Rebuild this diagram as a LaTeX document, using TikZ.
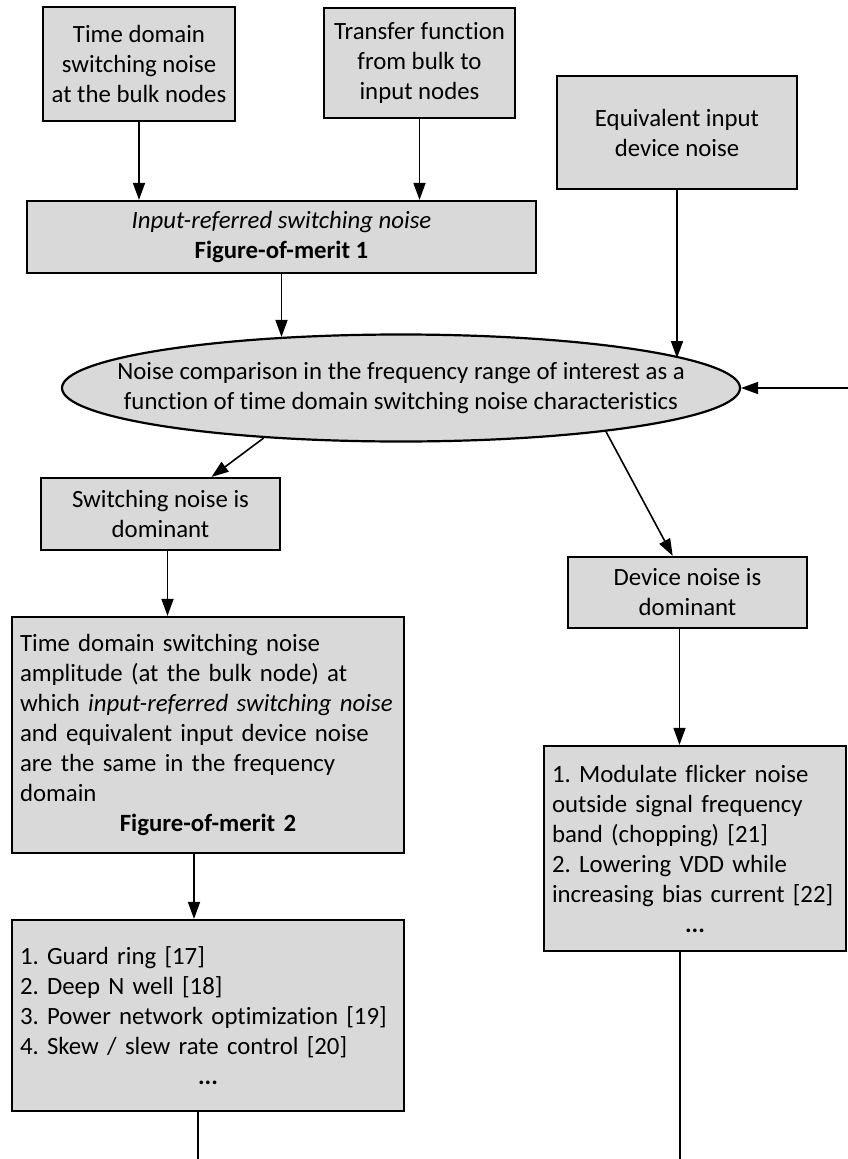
\documentclass[tikz,border=0pt]{standalone}
\usepackage{fontspec}
\setmainfont{Carlito}[Ligatures=NoCommon]
\usetikzlibrary{arrows.meta,shapes.geometric}
\definecolor{boxgray}{HTML}{D9D9D9}
\frenchspacing
\begin{document}
\begin{tikzpicture}[x=1pt,y=-1pt,
	txt/.style={font=\fontsize{24.8}{30}\selectfont},
	blk/.style={txt,draw,line width=2.2pt,fill=boxgray,inner sep=0pt,align=center},
	lst/.style={blk,align=left,inner xsep=8pt},
	arr/.style={line width=1.6pt,-{Triangle[length=17pt,width=12pt]}},
	ln/.style={line width=1.6pt}]

				\useasboundingbox (0,0) rectangle (848,1159);

				\node[blk,minimum width=192pt,minimum height=114pt] (bulk) at (139,64) {Time domain\\switching noise\\at the bulk nodes};
				\node[blk,minimum width=191pt,minimum height=110pt] (tf) at (419.5,63) {Transfer function\\from bulk to\\input nodes};
				\node[blk,minimum width=240pt,minimum height=113pt] (devin) at (677,132.5) {Equivalent input\\device noise};
				\node[blk,minimum width=509pt,minimum height=72pt] (fom) at (281.5,237) {\textit{Input-referred switching noise}\\\textbf{Figure-of-merit 1}};
				\node[blk,ellipse,minimum width=678pt,minimum height=107pt,
					label={[txt,align=center]center:Noise comparison in the frequency range of interest as a\\function of time domain switching noise characteristics}] (cmp) at (401,388) {};

				\node[blk,minimum width=239pt,minimum height=72pt] (sw) at (160.5,514) {Switching noise is\\dominant};
				\node[blk,minimum width=239pt,minimum height=71pt] (dn) at (687.5,592.5) {Device noise is\\dominant};

				\node[lst,text width=376pt,minimum height=236pt] (fom2) at (208,735) {Time domain switching noise\\amplitude (at the bulk node) at\\which \textit{input-referred switching noise}\\and equivalent input device noise\\are the same in the frequency\\domain\\\makebox[\linewidth][c]{\textbf{Figure-of-merit 2}}};
				\node[lst,text width=376pt,minimum height=191pt] (fix1) at (208,1015.5) {1. Guard ring [17]\\2. Deep N well [18]\\3. Power network optimization [19]\\4. Skew / slew rate control [20]\\\makebox[\linewidth][c]{\textbf{...}}};
				\node[lst,text width=286pt,minimum height=205pt] (fix2) at (695,848.5) {1. Modulate flicker noise\\outside signal frequency\\band (chopping) [21]\\2. Lowering VDD while\\increasing bias current [22]\\\makebox[\linewidth][c]{\textbf{...}}};

				\coordinate (side) at (848,388);
				\coordinate (end1) at (198,1159);
				\coordinate (end2) at (680,1159);

				\draw[arr] (bulk.south) -- (bulk.south |- fom.north);
				\draw[arr] (tf.south) -- (tf.south |- fom.north);
				\draw[arr] (fom.south) -- (fom.south |- cmp.157);
				\draw[arr] (devin.south) -- (devin.south |- cmp.6);
				\draw[arr] (side) -- (cmp.east);
				\draw[arr] (cmp.200) -- (sw.36);
				\draw[arr] (cmp.348) -- (dn.112);
				\draw[arr] ([xshift=7pt]sw.south) -- ([xshift=7pt]sw.south |- fom2.north);
				\draw[arr] ([xshift=-8pt]dn.south) -- ([xshift=-8pt]dn.south |- fix2.north);
				\draw[arr] ([xshift=-14pt]fom2.south) -- ([xshift=-14pt]fom2.south |- fix1.north);
				\draw[ln] (fix1.south -| end1) -- (end1);
				\draw[ln] (fix2.south -| end2) -- (end2);

\end{tikzpicture}
\end{document}
